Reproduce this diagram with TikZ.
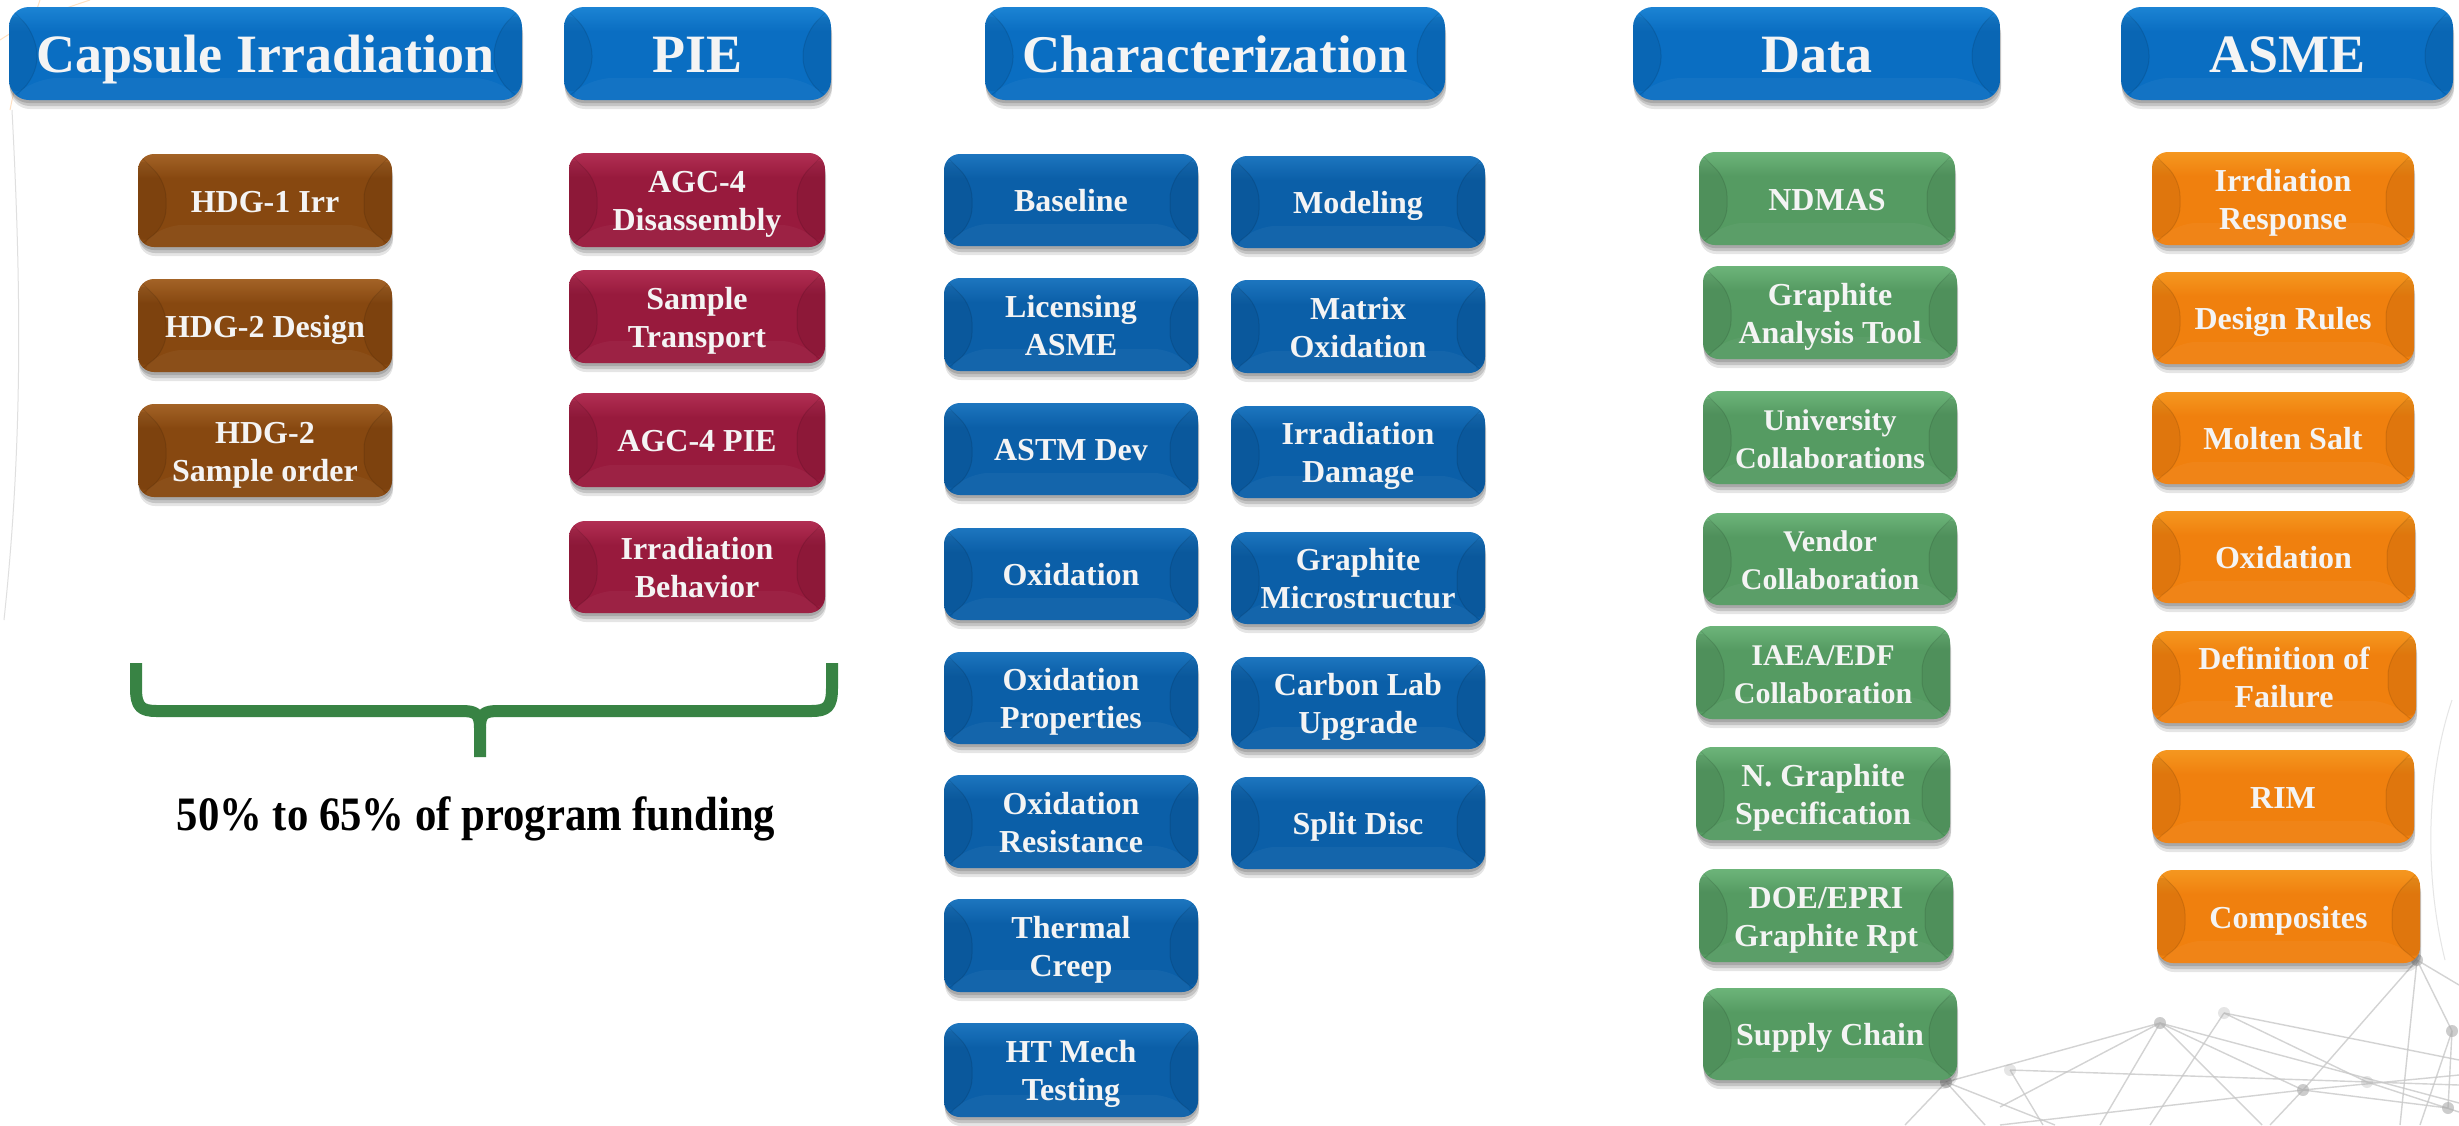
\documentclass[tikz,border=0pt]{standalone}
\usepackage{fontspec}
\setmainfont{Liberation Serif}
\usetikzlibrary{shadows,calc}

\definecolor{hdrB}{HTML}{0A6EC2}\definecolor{hdrT}{HTML}{40B0F8}
\definecolor{chB}{HTML}{0B5FA8}\definecolor{chT}{HTML}{42A4EE}
\definecolor{brB}{HTML}{874810}\definecolor{brT}{HTML}{DD9A55}
\definecolor{crB}{HTML}{981A3D}\definecolor{crT}{HTML}{E65A80}
\definecolor{grB}{HTML}{559B62}\definecolor{grT}{HTML}{9DE8AA}
\definecolor{orB}{HTML}{F0800E}\definecolor{orT}{HTML}{FFC845}
\definecolor{txtc}{HTML}{F4F4F4}
\definecolor{braceG}{HTML}{388344}
\definecolor{netG}{HTML}{C8C8C8}

\newcommand\mkshade[3]{\pgfdeclareverticalshading{#1}{100bp}{color(0bp)=(#2!80!#3); color(4bp)=(#2); color(62bp)=(#2); color(80bp)=(#2!55!#3); color(92bp)=(#3); color(100bp)=(#3)}}
\mkshade{shHdr}{hdrB}{hdrT}
\mkshade{shCh}{chB}{chT}
\mkshade{shBr}{brB}{brT}
\mkshade{shCr}{crB}{crT}
\mkshade{shGr}{grB}{grT}
\mkshade{shOr}{orB}{orT}

\newcommand\mybox[7]{%
  \pgfmathsetmacro\myCX{(#2+#4)/2}%
  \pgfmathsetmacro\myCY{(#3+#5)/2}%
  \pgfmathsetmacro\myW{#4-#2}%
  \pgfmathsetmacro\myH{#5-#3}%
  \node[#6, minimum width=\myW pt, minimum height=\myH pt] (#1) at (\myCX,\myCY) {#7};}

\tikzset{
  bevel/.style={path picture={
    \coordinate (pNW) at (path picture bounding box.north west);
    \coordinate (pNE) at (path picture bounding box.north east);
    \coordinate (pSW) at (path picture bounding box.south west);
    \coordinate (pSE) at (path picture bounding box.south east);
    \fill[black,opacity=0.07] (pNW) -- ($(pNW)+(28pt,-28pt)$) -- ($(pSW)+(28pt,22pt)$) -- (pSW) -- cycle;
    \fill[black,opacity=0.07] (pNE) -- ($(pNE)+(-28pt,-28pt)$) -- ($(pSE)+(-28pt,22pt)$) -- (pSE) -- cycle;
    \fill[white,opacity=0.04] (pSW) -- ($(pSW)+(28pt,22pt)$) -- ($(pSE)+(-28pt,22pt)$) -- (pSE) -- cycle;
    \draw[black,opacity=0.10,line width=1pt] (pNW) -- ($(pNW)+(28pt,-28pt)$) -- ($(pSW)+(28pt,22pt)$) -- (pSW);
    \draw[black,opacity=0.10,line width=1pt] (pNE) -- ($(pNE)+(-28pt,-28pt)$) -- ($(pSE)+(-28pt,22pt)$) -- (pSE);
  }},
  btn/.style={rounded corners=16pt, shading=#1, draw=none, text=txtc, align=center,
    inner sep=0pt, font=\bfseries\fontsize{32}{38}\selectfont, bevel,
    text height=23pt, text depth=0pt,
    drop shadow={shadow xshift=1pt, shadow yshift=-9pt, fill=black, opacity=0.10},
    drop shadow={shadow xshift=1pt, shadow yshift=-6pt, fill=black, opacity=0.14},
    drop shadow={shadow xshift=0pt, shadow yshift=-3pt, fill=black, opacity=0.14}},
  two/.style={text height=61pt, text depth=0pt},
  hdr/.style={btn=shHdr, rounded corners=20pt, font=\bfseries\fontsize{54}{60}\selectfont,
    text height=37pt, text depth=0pt},
  chb/.style={btn=shCh},
  brb/.style={btn=shBr},
  crb/.style={btn=shCr},
  grb/.style={btn=shGr},
  orb/.style={btn=shOr},
  net/.style={netG, line width=1.4pt, opacity=0.8},
  netdot/.style={fill=netG!85!black, opacity=0.6},
}

\begin{document}
\begin{tikzpicture}[x=1pt,y=-1pt]
\useasboundingbox (0,0) rectangle (2459,1125);
\fill[white] (0,0) rectangle (2459,1125);

% faint background decorations
\begin{scope}
\clip (0,0) rectangle (2459,1125);
\draw[orange!40, line width=1pt, opacity=0.6] (0,40) .. controls (30,20) and (60,10) .. (90,0);
\draw[orange!40, line width=1pt, opacity=0.6] (40,0) .. controls (30,30) and (20,60) .. (10,110);
\draw[gray!25, line width=1pt] (12,110) .. controls (22,300) and (22,450) .. (4,620);
\draw[gray!20, line width=1pt] (2452,700) .. controls (2425,780) and (2425,880) .. (2445,960);
\coordinate (n1) at (2417,960);
\coordinate (n2) at (2160,1023);
\coordinate (n3) at (2224,1013);
\coordinate (n4) at (2303,1090);
\coordinate (n5) at (2452,1031);
\coordinate (n6) at (2448,1108);
\coordinate (n7) at (2010,1070);
\coordinate (n8) at (2367,1082);
\coordinate (n9) at (1946,1082);
\draw[net] (n1) -- (n4);
\draw[net] (n1) -- (n5) -- (n6);
\draw[net] (n1) -- (2400,1125);
\draw[net] (n1) -- (2459,985);
\draw[net] (n2) -- (n4) -- (n6);
\draw[net] (n2) -- (2000,1107);
\draw[net] (n2) -- (2100,1125);
\draw[net] (n2) -- (2459,1103);
\draw[net] (n2) -- (2262,1125);
\draw[net] (n3) -- (2150,1125);
\draw[net] (n3) -- (n8) -- (2459,1112);
\draw[net] (n3) -- (2459,1060);
\draw[net] (n4) -- (2270,1125);
\draw[net] (n4) -- (2459,1075);
\draw[net] (n7) -- (2043,1125);
\draw[net] (n7) -- (2459,1085);
\draw[net] (n9) -- (1905,1125);
\draw[net] (n9) -- (1985,1125);
\draw[net] (n9) -- (2055,1125);
\draw[net] (n9) -- (n2);
\draw[net] (2000,1125) -- (n4);
\draw[net] (n5) -- (2420,1125);
\foreach \p in {n1,n2,n4,n5,n6,n9}{\fill[netdot] (\p) circle (6pt);}
\foreach \p in {n3,n7,n8}{\fill[netdot, opacity=0.3] (\p) circle (6pt);}
\end{scope}

% headers
\mybox{hCap}{9}{7}{522}{100}{hdr}{Capsule Irradiation}
\mybox{hPIE}{564}{7}{831}{100}{hdr}{PIE}
\mybox{hChar}{985}{7}{1445}{100}{hdr, font=\bfseries\fontsize{53}{60}\selectfont}{Characterization}
\mybox{hData}{1633}{7}{2000}{100}{hdr}{Data}
\mybox{hASME}{2121}{7}{2453}{100}{hdr}{ASME}

% capsule irradiation
\mybox{b1}{138}{154}{392}{247}{brb}{HDG-1 Irr}
\mybox{b2}{138}{279}{392}{372}{brb}{HDG-2 Design}
\mybox{b3}{138}{404}{392}{497}{brb, two}{HDG-2\\Sample order}

% PIE
\mybox{p1}{569}{153}{825}{247}{crb, two}{AGC-4\\Disassembly}
\mybox{p2}{569}{270}{825}{363}{crb, two}{Sample\\Transport}
\mybox{p3}{569}{393}{825}{487}{crb}{AGC-4 PIE}
\mybox{p4}{569}{521}{825}{613}{crb, two}{Irradiation\\Behavior}

% characterization
\mybox{c1}{944}{154}{1198}{246}{chb}{Baseline}
\mybox{c2}{944}{278}{1198}{371}{chb, two}{Licensing\\ASME}
\mybox{c3}{944}{403}{1198}{495}{chb}{ASTM Dev}
\mybox{c4}{944}{528}{1198}{620}{chb}{Oxidation}
\mybox{c5}{944}{652}{1198}{744}{chb, two}{Oxidation\\Properties}
\mybox{c6}{944}{775}{1198}{868}{chb, two}{Oxidation\\Resistance}
\mybox{c7}{944}{899}{1198}{992}{chb, two}{Thermal\\Creep}
\mybox{c8}{944}{1023}{1198}{1117}{chb, two}{HT Mech\\Testing}
\mybox{d1}{1231}{156}{1485}{248}{chb}{Modeling}
\mybox{d2}{1231}{280}{1485}{373}{chb, two}{Matrix\\Oxidation}
\mybox{d3}{1231}{406}{1485}{498}{chb, two}{Irradiation\\Damage}
\mybox{d4}{1231}{532}{1485}{624}{chb, two}{Graphite\\Microstructur}
\mybox{d5}{1231}{657}{1485}{749}{chb, two}{Carbon Lab\\Upgrade}
\mybox{d6}{1231}{777}{1485}{869}{chb}{Split Disc}

% data
\mybox{g1}{1699}{152}{1955}{245}{grb}{NDMAS}
\mybox{g2}{1703}{266}{1957}{359}{grb, two}{Graphite\\Analysis Tool}
\mybox{g3}{1703}{391}{1957}{484}{grb, two, font=\bfseries\fontsize{30}{38}\selectfont}{University\\Collaborations}
\mybox{g4}{1703}{513}{1957}{605}{grb, two, font=\bfseries\fontsize{30}{38}\selectfont}{Vendor\\Collaboration}
\mybox{g5}{1696}{626}{1950}{719}{grb, two, font=\bfseries\fontsize{30}{38}\selectfont}{IAEA/EDF\\Collaboration}
\mybox{g6}{1696}{747}{1950}{840}{grb, two}{N. Graphite\\Specification}
\mybox{g7}{1699}{869}{1953}{962}{grb, two}{DOE/EPRI\\Graphite Rpt}
\mybox{g8}{1703}{988}{1957}{1080}{grb}{Supply Chain}

% ASME
\mybox{o1}{2152}{152}{2414}{245}{orb, two}{Irrdiation\\Response}
\mybox{o2}{2152}{272}{2414}{364}{orb}{Design Rules}
\mybox{o3}{2152}{392}{2414}{484}{orb}{Molten Salt}
\mybox{o4}{2152}{511}{2415}{603}{orb}{Oxidation}
\mybox{o5}{2152}{631}{2416}{723}{orb, two}{Definition of\\Failure}
\mybox{o6}{2152}{750}{2414}{843}{orb}{RIM}
\mybox{o7}{2157}{870}{2420}{963}{orb}{Composites}

% brace
\draw[braceG, line width=12pt, line cap=butt, line join=round]
  (136,663) -- (136,688) .. controls (136,707) and (141,711) .. (157,711)
  -- (461,711) .. controls (475,711) and (480,713) .. (480,728) -- (480,757);
\draw[braceG, line width=12pt, line cap=butt, line join=round]
  (832,663) -- (832,688) .. controls (832,707) and (827,711) .. (811,711)
  -- (499,711) .. controls (485,711) and (480,713) .. (480,728);
\node[font=\bfseries\fontsize{48}{54}\selectfont, text=black, inner sep=0pt,
  anchor=base, xscale=0.89, transform shape] (fund) at (476,830) {50\% to 65\% of program funding};
\end{tikzpicture}
\end{document}
